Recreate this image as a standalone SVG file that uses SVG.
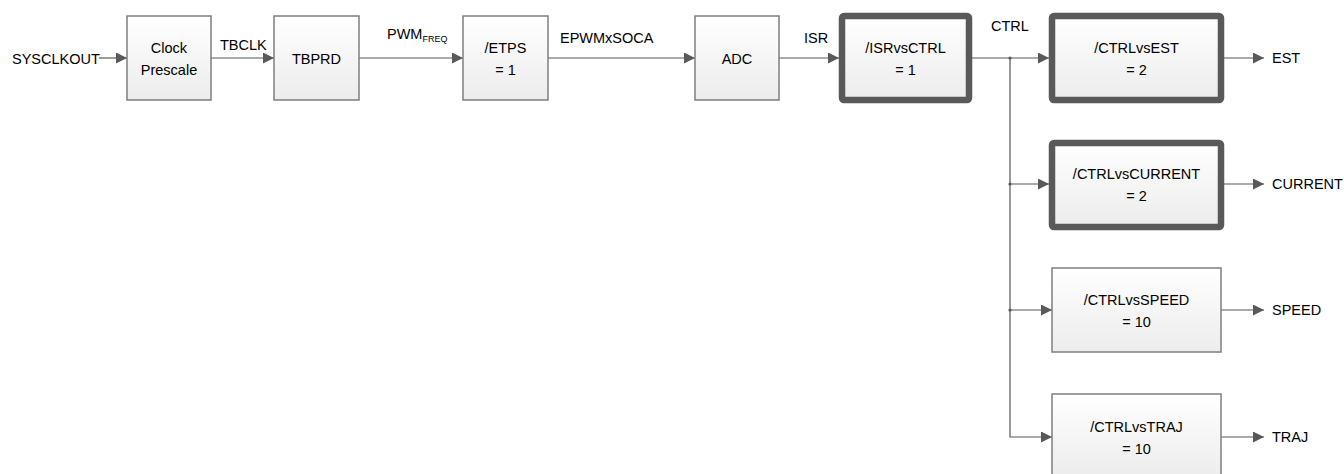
<svg xmlns="http://www.w3.org/2000/svg" width="1344" height="474" viewBox="0 0 1344 474">
<defs>
<linearGradient id="g" x1="0" y1="0" x2="0" y2="1">
<stop offset="0" stop-color="#ffffff"/>
<stop offset="1" stop-color="#ececec"/>
</linearGradient>
<marker id="ah" markerUnits="userSpaceOnUse" markerWidth="11" markerHeight="11" refX="11" refY="5.5" orient="auto">
<path d="M0,0 L11,5.5 L0,11 z" fill="#595959"/>
</marker>
</defs>
<style>
.box{fill:url(#g);stroke:#7f7f7f;stroke-width:1.5}
.tbox{fill:url(#g);stroke:#595959;stroke-width:6.5}
text{font-family:"Liberation Sans",Arial,sans-serif;font-size:14.5px;fill:#000}
.c{text-anchor:middle}
.ln{fill:none;stroke:#595959;stroke-width:1.2}
.a{marker-end:url(#ah)}
</style>
<rect width="1344" height="474" fill="#fff"/>
<g id="connectors">
<line class="ln a" x1="99" y1="58" x2="127" y2="58"/>
<line class="ln a" x1="211" y1="58" x2="274" y2="58"/>
<line class="ln a" x1="359" y1="58" x2="463" y2="58"/>
<line class="ln a" x1="548" y1="58" x2="695" y2="58"/>
<line class="ln a" x1="779" y1="58" x2="839" y2="58"/>
<line class="ln a" x1="972" y1="58" x2="1049" y2="58"/>
<polyline class="ln a" points="1010,58 1010,437 1052,437"/>
<line class="ln a" x1="1010" y1="184" x2="1049" y2="184"/>
<line class="ln a" x1="1010" y1="310" x2="1052" y2="310"/>
<circle cx="1010" cy="58" r="1.6" fill="#595959"/>
<circle cx="1010" cy="184" r="1.6" fill="#595959"/>
<circle cx="1010" cy="310" r="1.6" fill="#595959"/>
<line class="ln a" x1="1224" y1="58" x2="1264" y2="58"/>
<line class="ln a" x1="1224" y1="184" x2="1264" y2="184"/>
<line class="ln a" x1="1221" y1="310" x2="1264" y2="310"/>
<line class="ln a" x1="1221" y1="437" x2="1264" y2="437"/>
</g>
<g id="labels">
<text x="12" y="64">SYSCLKOUT</text>
<text x="220" y="50">TBCLK</text>
<text x="387" y="39">PWM<tspan font-size="9" dy="3">FREQ</tspan></text>
<text x="560" y="43">EPWMxSOCA</text>
<text x="804" y="43">ISR</text>
<text x="991" y="31">CTRL</text>
<text x="1272" y="63">EST</text>
<text x="1272" y="189">CURRENT</text>
<text x="1272" y="315">SPEED</text>
<text x="1272" y="442">TRAJ</text>
</g>
<g id="clock-prescale">
<rect class="box" x="127" y="16" width="84" height="84"/>
<text class="c" x="169" y="53">Clock</text>
<text class="c" x="169" y="75">Prescale</text>
</g>
<g id="tbprd">
<rect class="box" x="274" y="16" width="85" height="84"/>
<text class="c" x="316.5" y="64">TBPRD</text>
</g>
<g id="etps">
<rect class="box" x="463" y="16" width="85" height="84"/>
<text class="c" x="505.5" y="53">/ETPS</text>
<text class="c" x="505.5" y="75">= 1</text>
</g>
<g id="adc">
<rect class="box" x="695" y="16" width="84" height="84"/>
<text class="c" x="737" y="64">ADC</text>
</g>
<g id="isrvsctrl">
<rect class="tbox" x="842" y="16" width="127" height="84" rx="2"/>
<text class="c" x="905.5" y="53">/ISRvsCTRL</text>
<text class="c" x="905.5" y="75">= 1</text>
</g>
<g id="ctrlvsest">
<rect class="tbox" x="1052" y="16" width="169" height="84" rx="2"/>
<text class="c" x="1136.5" y="53">/CTRLvsEST</text>
<text class="c" x="1136.5" y="75">= 2</text>
</g>
<g id="ctrlvscurrent">
<rect class="tbox" x="1052" y="143" width="169" height="84" rx="2"/>
<text class="c" x="1136.5" y="179">/CTRLvsCURRENT</text>
<text class="c" x="1136.5" y="201">= 2</text>
</g>
<g id="ctrlvsspeed">
<rect class="box" x="1052" y="268" width="169" height="84"/>
<text class="c" x="1136.5" y="305">/CTRLvsSPEED</text>
<text class="c" x="1136.5" y="327">= 10</text>
</g>
<g id="ctrlvstraj">
<rect class="box" x="1052" y="394" width="169" height="84"/>
<text class="c" x="1136.5" y="432">/CTRLvsTRAJ</text>
<text class="c" x="1136.5" y="454">= 10</text>
</g>
</svg>
